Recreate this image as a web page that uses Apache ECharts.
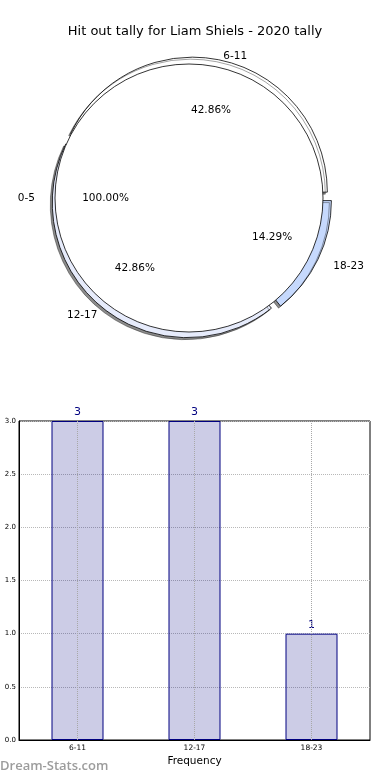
<!DOCTYPE html>
<html><head><meta charset="utf-8">
<script src="https://cdn.jsdelivr.net/npm/echarts@6/dist/echarts.min.js"></script>
<style>html,body{margin:0;padding:0;background:#fff}#c{width:390px;height:780px}</style>
</head><body><div id="c"></div>
<script>
const titleText = 'Hit out tally for Liam Shiels - 2020 tally';
const frontCategories = ['0-5'];
const frontValues = [1];
const categories = ['6-11', '12-17', '18-23'];
const values = [3, 3, 1];
const xAxisName = 'Frequency';
const watermarkText = 'Dream-Stats.com';
const wedgeColors = ['#ffffff', '#e6ebfb', '#c6d9fd'];
const wedgeLabelLineLengths = [4, 9, 17];

const FONT = 'DejaVu Sans';
const sum = a => a.reduce((s, v) => s + v, 0);
const pct = arr => p => (p.value / sum(arr) * 100).toFixed(2) + '%';

const chart = echarts.init(document.getElementById('c'), null, {renderer: 'canvas'});
const backCenter = [191, 198];
const frontCenter = [189, 198];

const option = {
  animation: false,
  backgroundColor: '#fff',
  title: {
    text: titleText, left: 'center', top: 20,
    textStyle: {fontSize: 13, fontWeight: 'normal', color: '#000', fontFamily: FONT}
  },
  grid: {left: 19, right: 20, top: 421, bottom: 40, show: true, borderColor: '#000', borderWidth: 1, backgroundColor: 'transparent'},
  xAxis: {
    type: 'category', data: categories,
    axisLine: {show: true, lineStyle: {color: '#000', width: 1}},
    axisTick: {show: false},
    axisLabel: {fontSize: 7.5, color: '#000', margin: 4, fontFamily: FONT},
    splitLine: {show: false},
    name: xAxisName, nameLocation: 'middle', nameGap: 16,
    nameTextStyle: {fontSize: 10.5, color: '#000', fontFamily: FONT}
  },
  yAxis: {
    type: 'value', min: 0, max: 3, interval: 0.5,
    axisLine: {show: true, lineStyle: {color: '#000', width: 1}},
    axisTick: {show: false},
    axisLabel: {fontSize: 7, color: '#000', margin: 3, fontFamily: FONT, formatter: v => v.toFixed(1)},
    splitLine: {show: true, lineStyle: {type: 'dotted', color: '#b8b8b8', width: 1}}
  },
  graphic: [{
    type: 'text', left: 0, top: 760,
    style: {text: watermarkText, fontSize: 13, fill: '#9c9c9c', fontFamily: 'Open Sans', fontWeight: 600}
  }],
  series: [
    {
      type: 'pie', name: 'wedges', z: 1, center: backCenter, radius: 135,
      startAngle: 0, clockwise: false, avoidLabelOverlap: false,
      selectedMode: 'multiple', selectedOffset: 6,
      data: categories.map((c, i) => ({
        name: c, value: values[i], selected: true,
        itemStyle: {color: wedgeColors[i]},
        labelLine: {show: false, length: wedgeLabelLineLengths[i], length2: 0}
      })),
      itemStyle: {borderColor: '#000', borderWidth: 0.8, shadowColor: 'rgba(0,0,0,0.45)', shadowOffsetX: -2, shadowOffsetY: 2, shadowBlur: 0},
      label: {show: true, position: 'outside', formatter: '{b}', fontSize: 10.5, color: '#000', fontFamily: FONT, distanceToLabelLine: 0},
      labelLine: {show: false, length: 13, length2: 0},
      emphasis: {disabled: true}
    },
    {
      type: 'pie', name: 'front', z: 2, center: frontCenter, radius: 134,
      startAngle: 0, clockwise: false, avoidLabelOverlap: false, silent: true,
      data: frontCategories.map((c, i) => ({name: c, value: frontValues[i]})),
      itemStyle: {color: '#fff', borderColor: '#000', borderWidth: 0.8},
      label: {show: true, position: 'outside', formatter: '{b}', fontSize: 10.5, color: '#000', fontFamily: FONT, distanceToLabelLine: 0},
      labelLine: {show: false, length: 20, length2: 0},
      emphasis: {disabled: true}
    },
    {
      type: 'pie', name: 'wedgePct', z: 3, center: backCenter, radius: [27, 135],
      startAngle: 0, clockwise: false, avoidLabelOverlap: false, silent: true,
      selectedMode: 'multiple', selectedOffset: 6,
      data: categories.map((c, i) => ({name: c, value: values[i], selected: true})),
      itemStyle: {color: 'rgba(0,0,0,0)', borderWidth: 0},
      label: {show: true, position: 'inside', formatter: pct(values), fontSize: 10.5, color: '#000', fontFamily: FONT},
      labelLine: {show: false},
      emphasis: {disabled: true}
    },
    {
      type: 'pie', name: 'frontPct', z: 3, center: frontCenter, radius: [27, 134],
      startAngle: 0, clockwise: false, avoidLabelOverlap: false, silent: true,
      data: frontCategories.map((c, i) => ({name: c, value: frontValues[i]})),
      itemStyle: {color: 'rgba(0,0,0,0)', borderWidth: 0},
      label: {show: true, position: 'inside', formatter: pct(frontValues), fontSize: 10.5, color: '#000', fontFamily: FONT},
      labelLine: {show: false},
      emphasis: {disabled: true}
    },
    {
      type: 'bar', name: 'tally', data: values, barWidth: 52,
      itemStyle: {color: 'rgba(0,0,128,0.2)', borderColor: '#000080', borderWidth: 1},
      label: {show: true, position: 'top', distance: 3, color: '#000080', fontSize: 11, fontFamily: FONT},
      emphasis: {disabled: true},
      markLine: {
        silent: true, symbol: 'none', label: {show: false},
        lineStyle: {type: 'dotted', color: '#a8a8a8', width: 1},
        emphasis: {disabled: true},
        data: categories.map(c => ({xAxis: c}))
      }
    }
  ]
};
chart.setOption(option);
</script>
</body></html>
